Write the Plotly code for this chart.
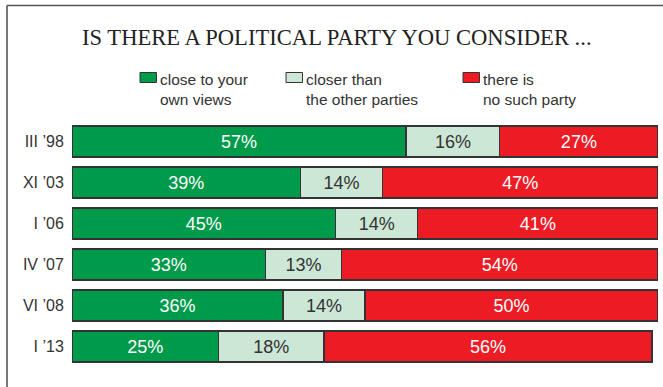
import plotly.graph_objects as go

W, H = 663, 387

periods = ["III ’98", "XI ’03", "I ’06", "IV ’07", "VI ’08", "I ’13"]
close_to_views = [57, 39, 45, 33, 36, 25]
closer_than_others = [16, 14, 14, 13, 14, 18]
no_such_party = [27, 47, 41, 54, 50, 56]

series_names = [["close to your", "own views"],
                ["closer than", "the other parties"],
                ["there is", "no such party"]]
title_text = "IS THERE A POLITICAL PARTY YOU CONSIDER ..."

GREEN = "#009a4b"
LIGHT = "#cde7d6"
RED = "#ed1c24"
EDGE = "#333333"
TEXT_DARK = "#333333"
SANS = "Liberation Sans, Arial, sans-serif"
SERIF = "Liberation Serif, Times New Roman, serif"


def px_x(p):
    return p / W


def px_y(p):
    return 1 - p / H


fig = go.Figure()
for vals, color, tcolor in [(close_to_views, GREEN, "white"),
                            (closer_than_others, LIGHT, TEXT_DARK),
                            (no_such_party, RED, "white")]:
    fig.add_trace(go.Bar(
        y=periods, x=vals, orientation="h",
        marker=dict(color=color, line=dict(color=EDGE, width=1.3)),
        text=[f"{v}%" for v in vals],
        textposition="inside", insidetextanchor="middle",
        textangle=0, constraintext="none",
        insidetextfont=dict(family=SANS, size=18, color=tcolor),
        hoverinfo="skip", showlegend=False,
    ))

# legend drawn as swatches plus two-line labels
legend_x = [140, 286, 463]
colors = [GREEN, LIGHT, RED]
shapes = []
annotations = []
for lx, col, lines in zip(legend_x, colors, series_names):
    shapes.append(dict(type="rect", xref="paper", yref="paper",
                       x0=px_x(lx), x1=px_x(lx + 16.5),
                       y0=px_y(72.5), y1=px_y(82.5),
                       fillcolor=col, line=dict(color=EDGE, width=1)))
    for i, line in enumerate(lines):
        annotations.append(dict(text=line, xref="paper", yref="paper",
                                x=px_x(lx + 18), y=px_y(79 + i * 21),
                                xanchor="left", yanchor="middle",
                                showarrow=False,
                                font=dict(family=SANS, size=15.5, color=TEXT_DARK)))

annotations.append(dict(text=title_text, xref="paper", yref="paper",
                        x=px_x(337), y=px_y(38), xanchor="center", yanchor="middle",
                        showarrow=False,
                        font=dict(family=SERIF, size=22.6, color="#222222")))

# outer frame
shapes.append(dict(type="line", xref="paper", yref="paper",
                   x0=px_x(7), x1=px_x(7), y0=px_y(5.5), y1=px_y(H + 10),
                   line=dict(color="#555555", width=1.6)))
shapes.append(dict(type="line", xref="paper", yref="paper",
                   x0=px_x(7), x1=px_x(W + 10), y0=px_y(5.5), y1=px_y(5.5),
                   line=dict(color="#555555", width=1.6)))

fig.update_layout(
    width=W, height=H,
    margin=dict(l=0, r=0, t=0, b=0),
    paper_bgcolor="white", plot_bgcolor="white",
    barmode="stack", bargap=1 - 31 / 41,
    shapes=shapes, annotations=annotations,
    xaxis=dict(domain=[px_x(72), px_x(658)], range=[0, 100],
               visible=False, fixedrange=True),
    yaxis=dict(domain=[px_y(367), px_y(121)],
               categoryorder="array", categoryarray=periods,
               autorange="reversed",
               showgrid=False, zeroline=False, showline=False,
               ticks="outside", ticklen=4, tickcolor="rgba(0,0,0,0)",
               tickfont=dict(family=SANS, size=16, color=TEXT_DARK)),
)

fig.write_html("out.html")
